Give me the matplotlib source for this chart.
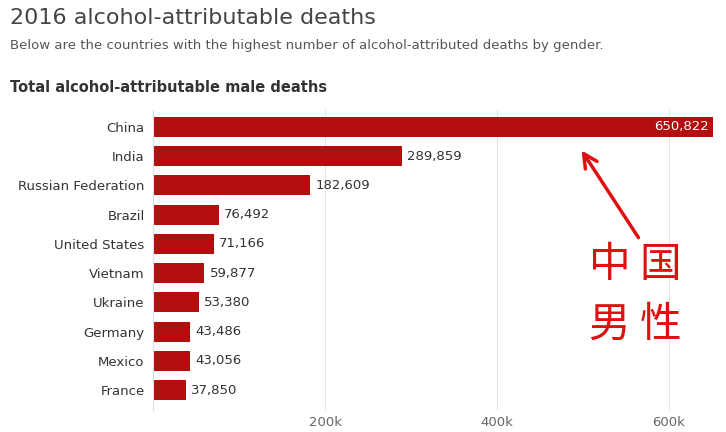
import matplotlib.pyplot as plt
from matplotlib.ticker import FuncFormatter

countries = ["China", "India", "Russian Federation", "Brazil", "United States",
             "Vietnam", "Ukraine", "Germany", "Mexico", "France"]
deaths = [650822, 289859, 182609, 76492, 71166, 59877, 53380, 43486, 43056, 37850]
ticks = [200000, 400000, 600000]

red = "#b30f0f"
fig = plt.figure(figsize=(7.26, 4.32), dpi=100)
ax = fig.add_axes([153 / 726, 1 - 410 / 432, 570 / 726, 300 / 432])

y = list(range(len(countries)))
ax.barh(y, deaths, height=0.68, color=red, zorder=2)
ax.set_xlim(0, 570 / 172 * 200000)
ax.set_ylim(9.68, -0.58)
ax.set_yticks(y)
ax.set_yticklabels(countries, fontsize=9.5, color="#333333")
ax.set_xticks(ticks)
ax.xaxis.set_major_formatter(FuncFormatter(lambda v, p: f"{int(v / 1000)}k"))
ax.tick_params(axis="x", length=0, labelsize=9.5, colors="#666666", pad=4)
ax.tick_params(axis="y", length=0, pad=6)
ax.grid(axis="x", color="#e4e4e4", lw=0.8, zorder=0)
for s in ["top", "right", "bottom"]:
    ax.spines[s].set_visible(False)
ax.spines["left"].set_color("#dddddd")

for i, v in enumerate(deaths):
    if i == 0:
        ax.text(v - 5000, i, f"{v:,}", color="white", va="center", ha="right", fontsize=9.5)
    else:
        ax.text(v + 6000, i, f"{v:,}", color="#333333", va="center", ha="left", fontsize=9.5)

fig.text(10 / 726, 1 - 18 / 432, "2016 alcohol-attributable deaths", fontsize=16,
         color="#444444", va="center")
fig.text(10 / 726, 1 - 45 / 432,
         "Below are the countries with the highest number of alcohol-attributed deaths by gender.",
         fontsize=9.5, color="#555555", va="center")
fig.text(10 / 726, 1 - 88 / 432, "Total alcohol-attributable male deaths", fontsize=10.5,
         fontweight="bold", color="#333333", va="center")

# handwritten annotation
fig.text(635 / 726, 1 - 265 / 432, "中 国", fontsize=30, color="#e01010",
         family="Noto Sans CJK SC", ha="center", va="center")
fig.text(635 / 726, 1 - 325 / 432, "男 性", fontsize=30, color="#e01010",
         family="Noto Sans CJK SC", ha="center", va="center")
fig.add_artist(plt.Annotation("", xy=(580 / 726, 1 - 148 / 432), xytext=(640 / 726, 1 - 240 / 432),
                              xycoords="figure fraction", textcoords="figure fraction",
                              arrowprops=dict(arrowstyle="->", color="#e01010", lw=2.5,
                                              mutation_scale=25)))

fig.savefig("out.png", dpi=100)
